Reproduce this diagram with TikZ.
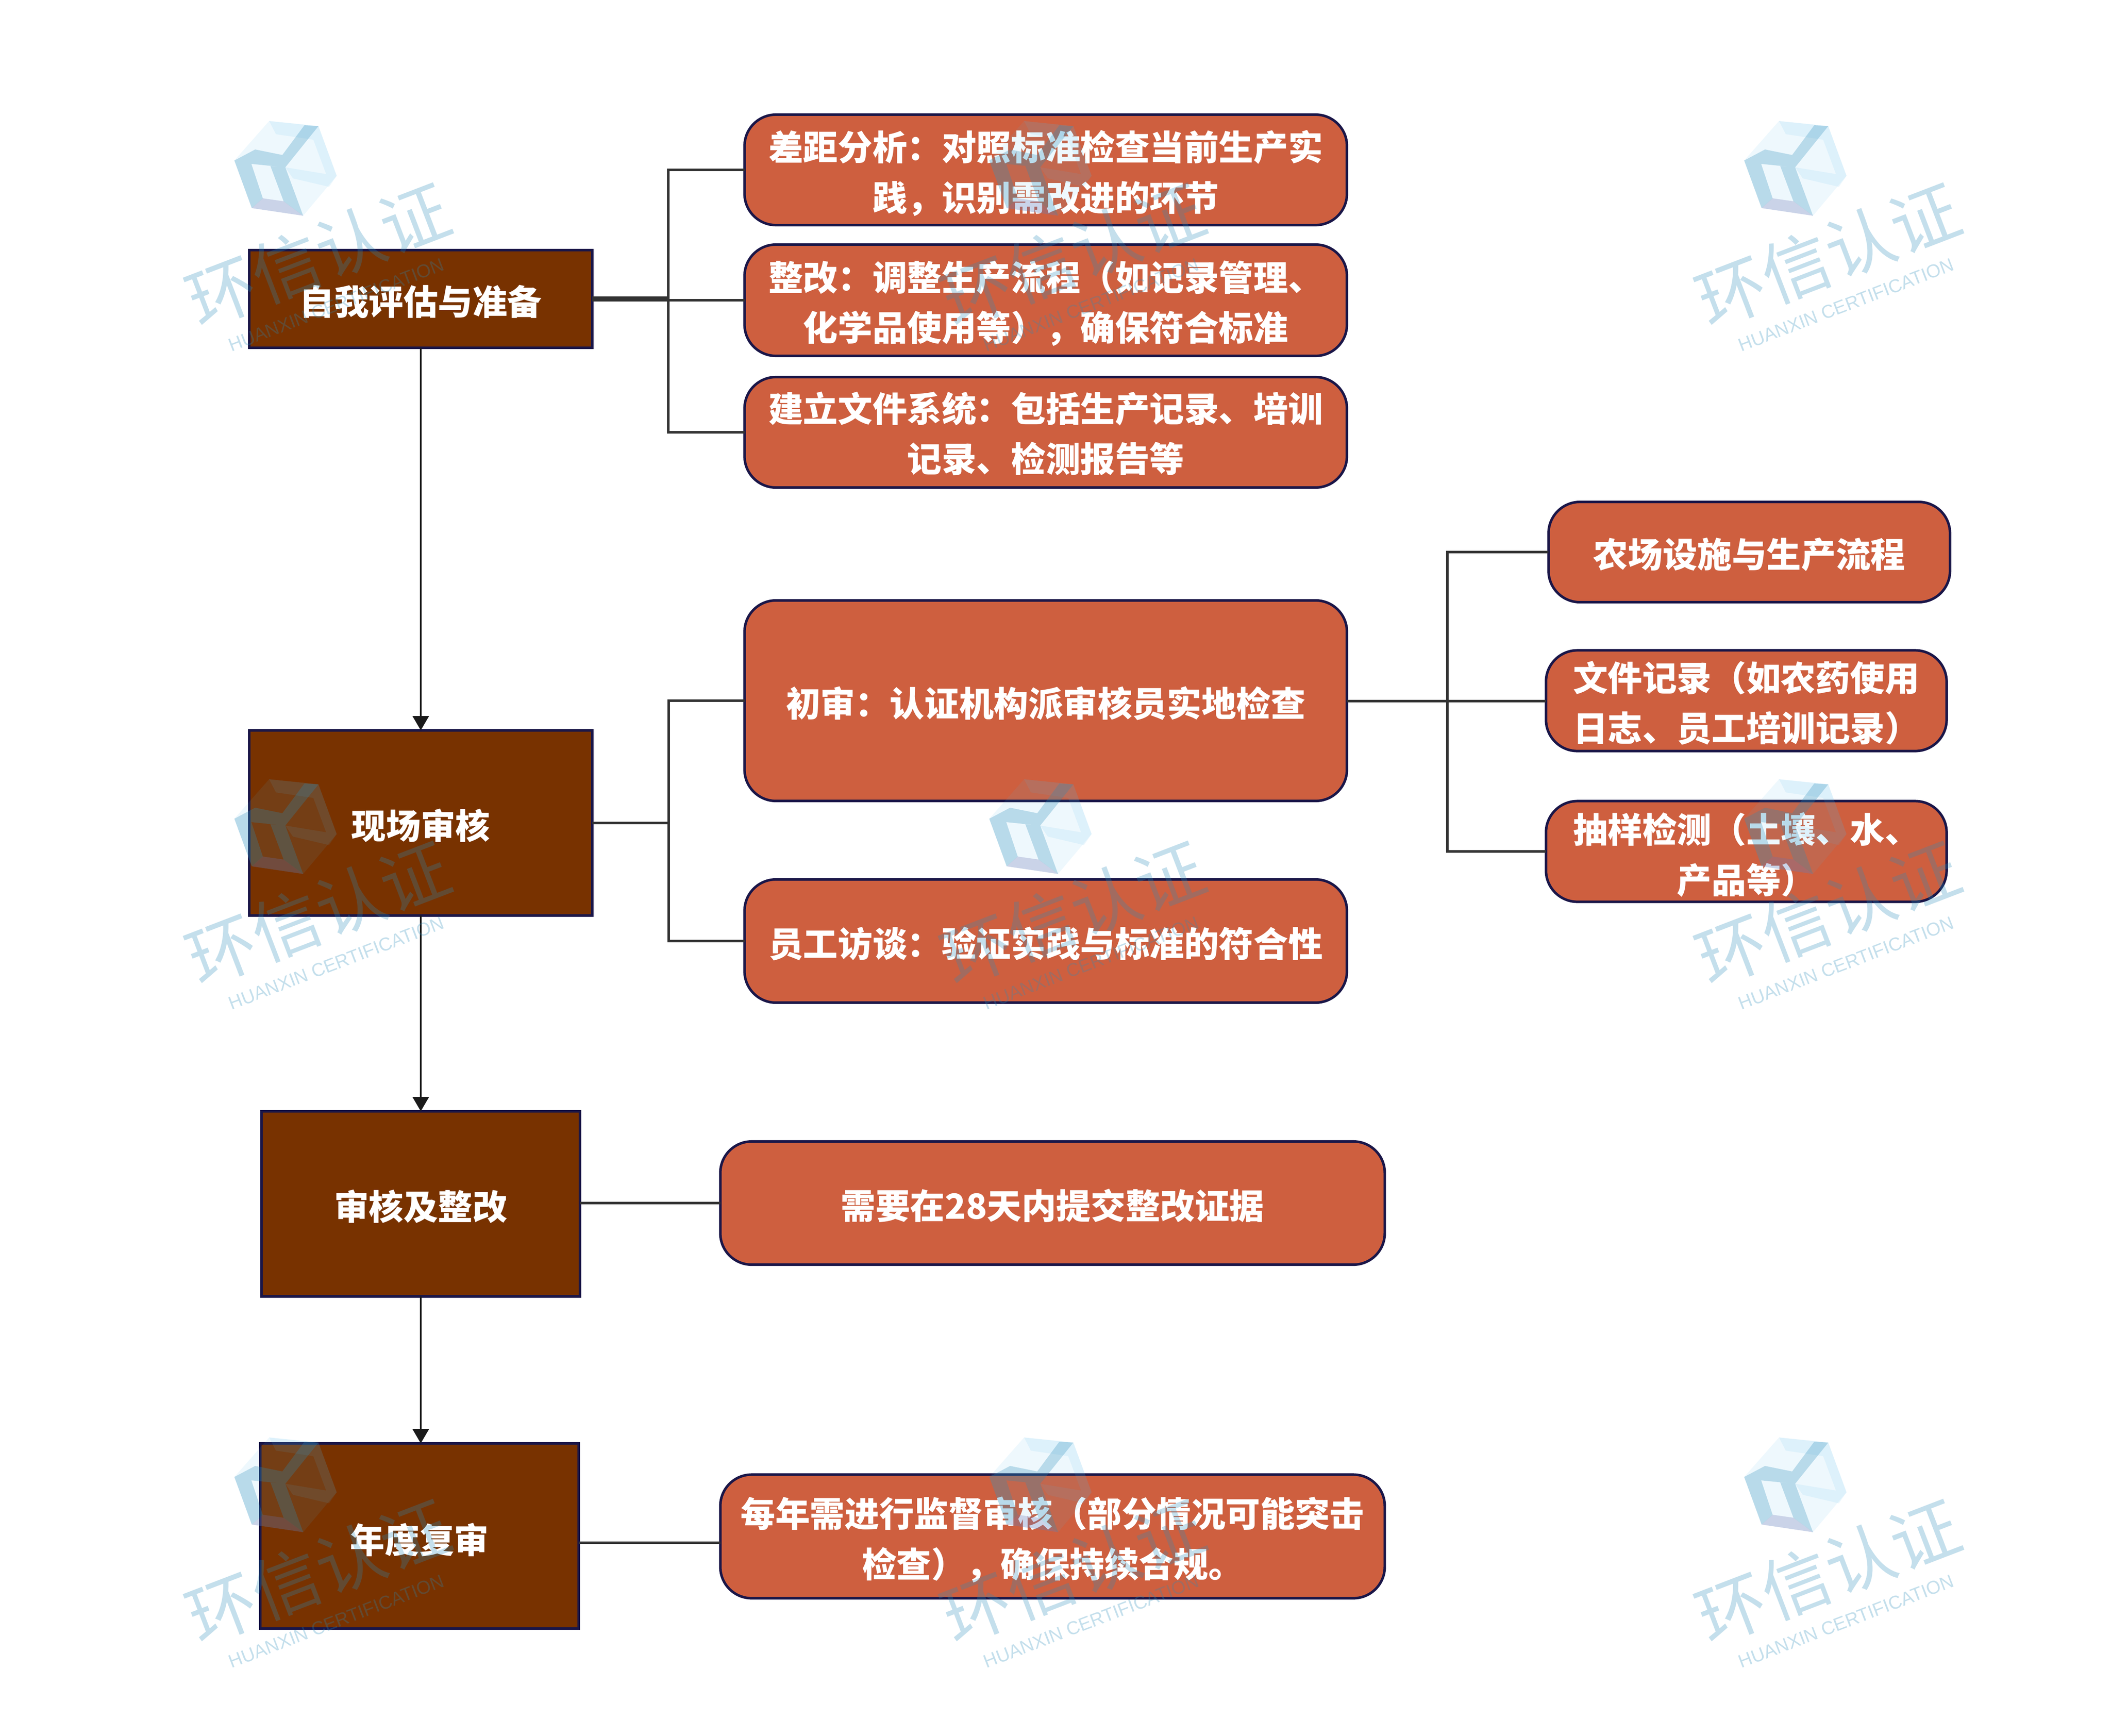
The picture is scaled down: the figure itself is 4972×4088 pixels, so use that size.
\documentclass[tikz,border=0pt]{standalone}
\usepackage{fontspec}
\setmainfont{Noto Sans CJK SC}
\newfontfamily\wmlatin{Liberation Sans}
\usetikzlibrary{arrows.meta}
\definecolor{stagefill}{HTML}{783200}
\definecolor{detailfill}{HTML}{CE5F3F}
\definecolor{edgeblue}{HTML}{1A1648}
\definecolor{linegrey}{HTML}{333333}
\definecolor{arrowblack}{HTML}{1A1A1A}
\definecolor{wmblue}{HTML}{288CB9}
\definecolor{wmcyan}{HTML}{4DB8EE}
\definecolor{wmlav}{HTML}{6A70B0}
\tikzset{
  basebox/.style={draw=edgeblue,line width=1.7pt,inner sep=0pt,outer sep=0pt},
  stagebox/.style={basebox,rectangle,fill=stagefill},
  detailbox/.style={basebox,rectangle,rounded corners=21pt,fill=detailfill},
  boxtext/.style={text=white,inner sep=0pt,outer sep=0pt,align=center,
    font=\fontsize{23.2}{33.6}\selectfont\bfseries},
  oneline/.style={boxtext,yshift=-1.8pt},
  twoline/.style={boxtext,yshift=-2.2pt},
  flowarrow/.style={draw=arrowblack,line width=1.35pt,-{Triangle[length=9.6pt,width=10.8pt]}},
  branch/.style={draw=linegrey,line width=1.45pt},
  wmcn/.style={text=wmblue,text opacity=.27,font=\fontsize{46}{46}\selectfont,rotate=21,inner sep=0pt},
  wmen/.style={text=wmblue,text opacity=.27,font=\wmlatin\fontsize{12.4}{12.4}\selectfont,rotate=21,inner sep=0pt},
}
\begin{document}
\begin{tikzpicture}[x=.01cm,y=-.01cm]
\useasboundingbox (0,0) rectangle (4972,4088);
\fill[white] (0,0) rectangle (4972,4088);

% stages
\node[stagebox,minimum width=8.07cm,minimum height=2.30cm,label={[oneline,name=At]center:自我评估与准备}] (A) at (991,704) {};
\node[stagebox,minimum width=8.07cm,minimum height=4.36cm,label={[oneline,name=Bt]center:现场审核}] (B) at (991,1938) {};
\node[stagebox,minimum width=7.49cm,minimum height=4.36cm,label={[oneline,name=Ct]center:审核及整改}] (C) at (991,2835) {};
\node[stagebox,minimum width=7.49cm,minimum height=4.36cm,label={[oneline,yshift=-.8pt,name=Dt]center:年度复审}] (D) at (988,3617) {};

% details
\node[detailbox,minimum width=14.18cm,minimum height=2.60cm,label={[twoline,name=r1t]center:差距分析：对照标准检查当前生产实\\践，识别需改进的环节}] (r1) at (2463,400) {};
\node[detailbox,minimum width=14.18cm,minimum height=2.62cm,label={[twoline,name=r2t]center:整改：调整生产流程（如记录管理、\\化学品使用等），确保符合标准}] (r2) at (2463,707) {};
\node[detailbox,minimum width=14.18cm,minimum height=2.60cm,label={[twoline,yshift=1.3pt,name=r3t]center:建立文件系统：包括生产记录、培训\\记录、检测报告等}] (r3) at (2463,1018) {};
\node[detailbox,minimum width=14.18cm,minimum height=4.72cm,label={[oneline,name=r4t]center:初审：认证机构派审核员实地检查}] (r4) at (2463,1650) {};
\node[detailbox,minimum width=14.18cm,minimum height=2.90cm,label={[oneline,name=r5t]center:员工访谈：验证实践与标准的符合性}] (r5) at (2463,2216) {};
\node[detailbox,minimum width=15.64cm,minimum height=2.90cm,label={[oneline,name=r6t]center:需要在28天内提交整改证据}] (r6) at (2479,2833) {};
\node[detailbox,minimum width=15.64cm,minimum height=2.91cm,label={[twoline,name=r7t]center:每年需进行监督审核（部分情况可能突击\\检查），确保持续合规。}] (r7) at (2479,3618) {};
\node[detailbox,minimum width=9.45cm,minimum height=2.36cm,label={[oneline,name=s1t]center:农场设施与生产流程}] (s1) at (4120,1300) {};
\node[detailbox,minimum width=9.43cm,minimum height=2.37cm,label={[twoline,yshift=.6pt,align=left,name=s2t]center:文件记录（如农药使用\\日志、员工培训记录）}] (s2) at (4113,1650) {};
\node[detailbox,minimum width=9.43cm,minimum height=2.37cm,label={[twoline,name=s3t]center:抽样检测（土壤、水、\\产品等）}] (s3) at (4113,2005) {};

% connectors
\coordinate (ta) at (1574,701);
\coordinate (tb) at (1575,1938);
\coordinate (tr) at (3409,1651);
\coordinate (dy) at (0,3633);
\draw[flowarrow] (A.south) -- (A.south |- B.north);
\draw[flowarrow] (B.south -| A.south) -- (A.south |- C.north);
\draw[flowarrow] (C.south -| A.south) -- (A.south |- D.north);
\draw[branch] (A.east |- ta) -- (ta) |- (r1.west);
\draw[branch] (A.east |- r2.west) -- (r2.west);
\draw[branch] (ta) |- (r3.west);
\draw[branch] (B.east) -- (tb) |- (r4.west);
\draw[branch] (tb) |- (r5.west);
\draw[branch] (r4.east |- tr) -- (tr) |- (s1.west);
\draw[branch] (tr) -- (s2.west |- tr);
\draw[branch] (tr) |- (s3.west);
\draw[branch] (C.east |- r6.west) -- (r6.west);
\draw[branch] (D.east |- dy) -- (r7.west |- dy);

% watermarks
\foreach \cx/\col in {0/a,1778/b,3556/c}{
  \foreach \cy/\row in {0/p,1550/q,3100/w}{
    \begin{scope}[shift={(\cx,\cy)}]
      \fill[wmcyan,opacity=.09] (634,285)--(750,297)--(793,414)--(714,508)--(593,490)--(552,378)--cycle;
      \fill[wmcyan,opacity=.10]
        (634,285)--(750,297)--(738,329)--(650,316)--cycle
        (750,297)--(793,414)--(770,415)--(738,329)--cycle
        (672,394)--(793,414)--(775,440)--(690,420)--cycle;
      \fill[wmblue,opacity=.27]
        (552,378)--(601,352)--(665,365)--(672,394)--(592,386)--cycle
        (552,378)--(592,386)--(619,467)--(593,490)--cycle
        (637,391)--(672,394)--(714,508)--(668,474)--cycle
        (665,365)--(717,295)--(750,297)--(672,394)--cycle;
      \fill[wmlav,opacity=.27] (593,490)--(619,467)--(668,474)--(714,508)--cycle;
      \node[wmcn] (wc\col\row) at (750,600) {环信认证};
      \node[wmen] (we\col\row) at (792,718) {HUANXIN CERTIFICATION};
    \end{scope}
  }
}
\end{tikzpicture}
\end{document}
